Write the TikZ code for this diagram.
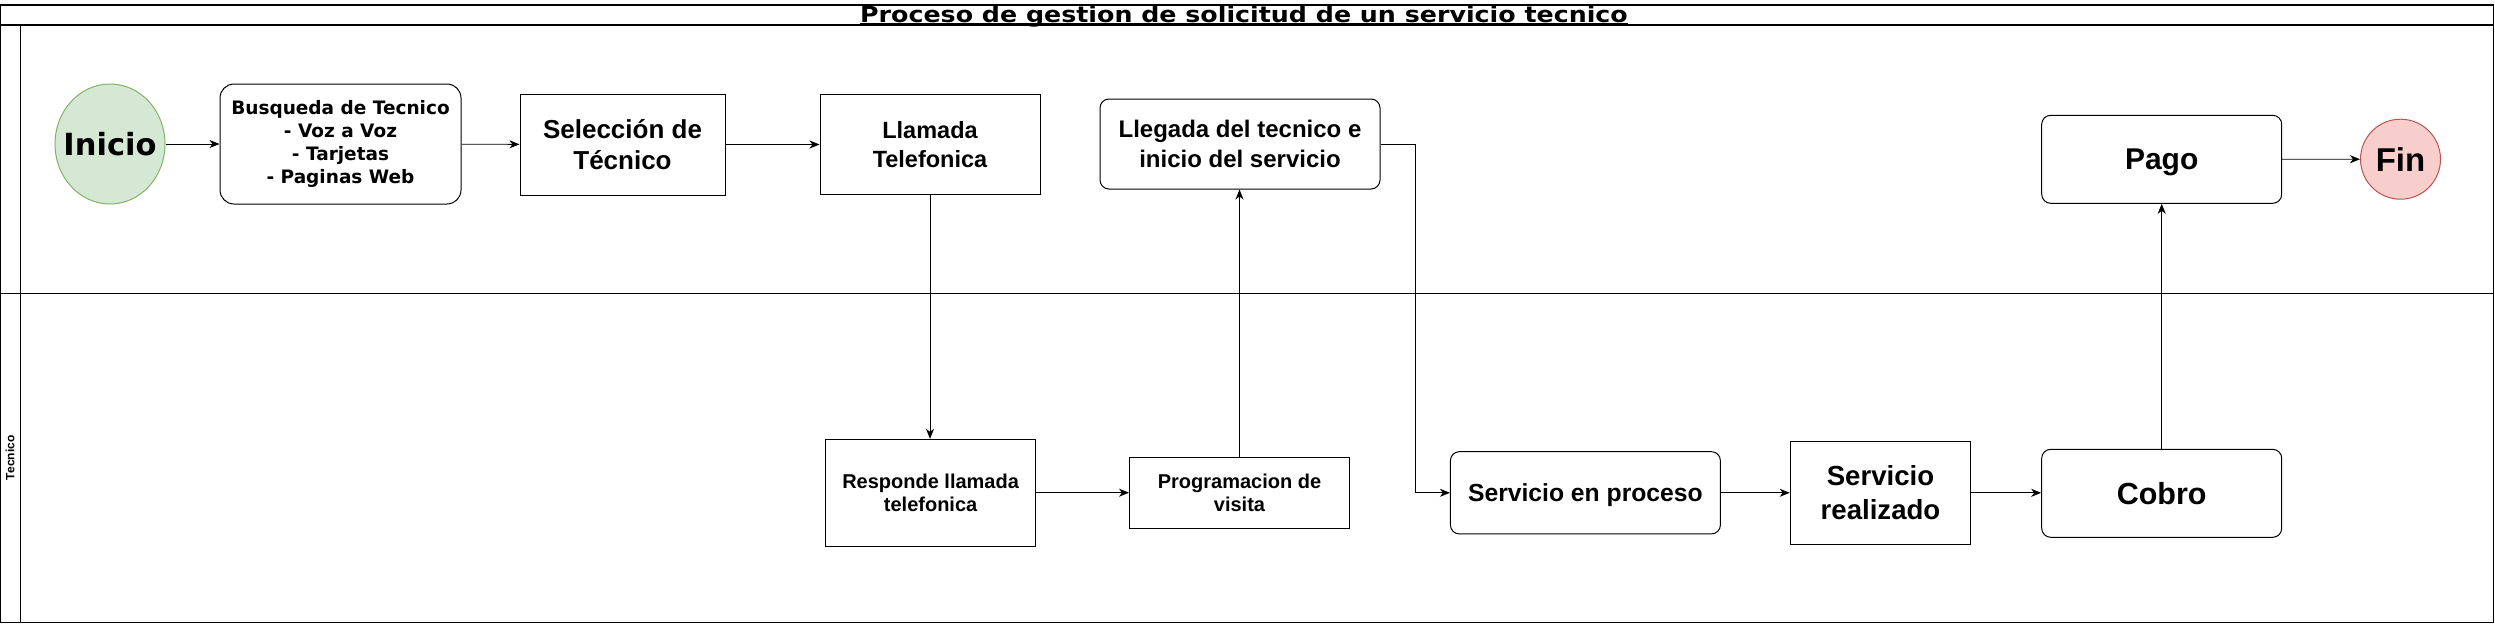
\documentclass[tikz,border=0pt]{standalone}
\usepackage{fontspec}
\setmainfont{Liberation Sans}
\newfontfamily\vfont{DejaVu Sans}
\usepackage{tikz}
\usetikzlibrary{arrows.meta, positioning, shapes.geometric}
\definecolor{IniFill}{HTML}{D5E8D4}
\definecolor{IniLine}{HTML}{82B366}
\definecolor{FinFill}{HTML}{F8CECC}
\definecolor{FinLine}{HTML}{B85450}
\newcommand{\fs}[2]{\fontsize{#1pt}{#2pt}\selectfont\bfseries}

\begin{document}
\begin{tikzpicture}[x=1pt, y=-1pt, >={Stealth[length=10pt,width=8pt,inset=3pt]},
		Lane/.style={line width=1.2pt},
		Box/.style={
			draw,
			line width=1pt,
			align=center,
			inner sep=0pt
		},
		RBox/.style={Box, rounded corners=9pt},
		Ovalo/.style={ellipse, line width=1pt, inner sep=0pt},
		Flecha/.style={->, line width=0.9pt}]
		\useasboundingbox (0,0) rectangle (2495,624);
		% pool, title band and lanes
		\draw[Lane] (0.6,5) rectangle (2493.8,622.4);
		\draw[Lane] (0.6,25) -- (2493.8,25);
		\draw[Lane] (0.6,293.3) -- (2493.8,293.3);
		\draw[Lane] (20.4,25) -- (20.4,622.4);
		\node[anchor=base, inner sep=0pt, font={\vfont\fs{22}{26}}] (Tit) at (1244,22.3) {\scalebox{1.15}[1]{Proceso de gestion de solicitud de un servicio tecnico}};
		\draw[line width=1.4pt] ([yshift=-1.6pt]Tit.base west) -- ([yshift=-1.6pt]Tit.base east);
		\node[rotate=90, inner sep=0pt, font={\fs{12}{14}}] (LTec) at (10.2,457.8) {Tecnico};
		% upper lane
		\node[Ovalo, fill=IniFill, draw=IniLine, minimum width=110pt, minimum height=120pt, font={\vfont\fs{30.5}{36}}] (Ini) at (110,144) {\makebox[0pt]{Inicio}};
		\node[RBox, rounded corners=14pt, minimum width=241pt, minimum height=120pt, font={\vfont\fs{18.5}{22.8}}] (Bus) at (340.5,144) {Busqueda de Tecnico\\- Voz a Voz\\- Tarjetas\\- Paginas Web};
		\node[Box, minimum width=205pt, minimum height=101pt, font={\fs{26}{31.5}}] (Sel) at (622.5,144.5) {Selección de\\Técnico};
		\node[Box, minimum width=220pt, minimum height=100pt, font={\fs{23.5}{29}}] (Lla) at (930,144.3) {Llamada\\Telefonica};
		\node[RBox, minimum width=280pt, minimum height=90pt, font={\fs{24}{29.3}}] (Lle) at (1240,144) {Llegada del tecnico e\\inicio del servicio};
		\node[RBox, minimum width=240pt, minimum height=88pt, text depth=0pt, font={\fs{30}{36}}] (Pag) at (2161.7,159.3) {Pago};
		\node[Ovalo, fill=FinFill, draw=FinLine, minimum width=80pt, minimum height=80pt, font={\fs{33}{38}}] (Fin) at (2400.5,159.2) {\makebox[0pt]{Fin}};
		% lower lane
		\node[Box, minimum width=209.6pt, minimum height=106.7pt, font={\fs{20}{23.3}}] (Res) at (930.6,492.7) {Responde llamada\\telefonica};
		\node[Box, minimum width=220pt, minimum height=70.7pt, font={\fs{20}{23.3}}] (Pro) at (1239.5,493) {Programacion de\\visita};
		\node[RBox, minimum width=270pt, minimum height=82.3pt, text depth=0pt, font={\fs{24.7}{29}}] (Ser) at (1585.4,492.8) {Servicio en proceso};
		\node[Box, minimum width=180.5pt, minimum height=103pt, font={\fs{27.6}{34}}] (Rea) at (1880.5,492.8) {Servicio\\realizado};
		\node[RBox, minimum width=240pt, minimum height=88pt, font={\fs{30.5}{36}}] (Cob) at (2161.7,493.3) {Cobro};
		% connectors
		\draw[Flecha] (Ini) -- (Bus);
		\draw[Flecha] (Bus) -- (Sel);
		\draw[Flecha] (Sel) -- (Lla.west |- Sel);
		\draw[Flecha] (Lla.south) -- (Lla.south |- Res.north);
		\draw[Flecha] (Res) -- (Pro.west |- Res);
		\draw[Flecha] (Pro.north) -- (Pro.north |- Lle.south);
		\draw[Flecha] (Lle.east) -- ++(35.4,0) |- (Ser.west);
		\draw[Flecha] (Ser) -- (Rea);
		\draw[Flecha] (Rea) -- (Cob.west |- Rea);
		\draw[Flecha] (Cob) -- (Pag);
		\draw[Flecha] (Pag) -- (Fin);
	\end{tikzpicture}
\end{document}
